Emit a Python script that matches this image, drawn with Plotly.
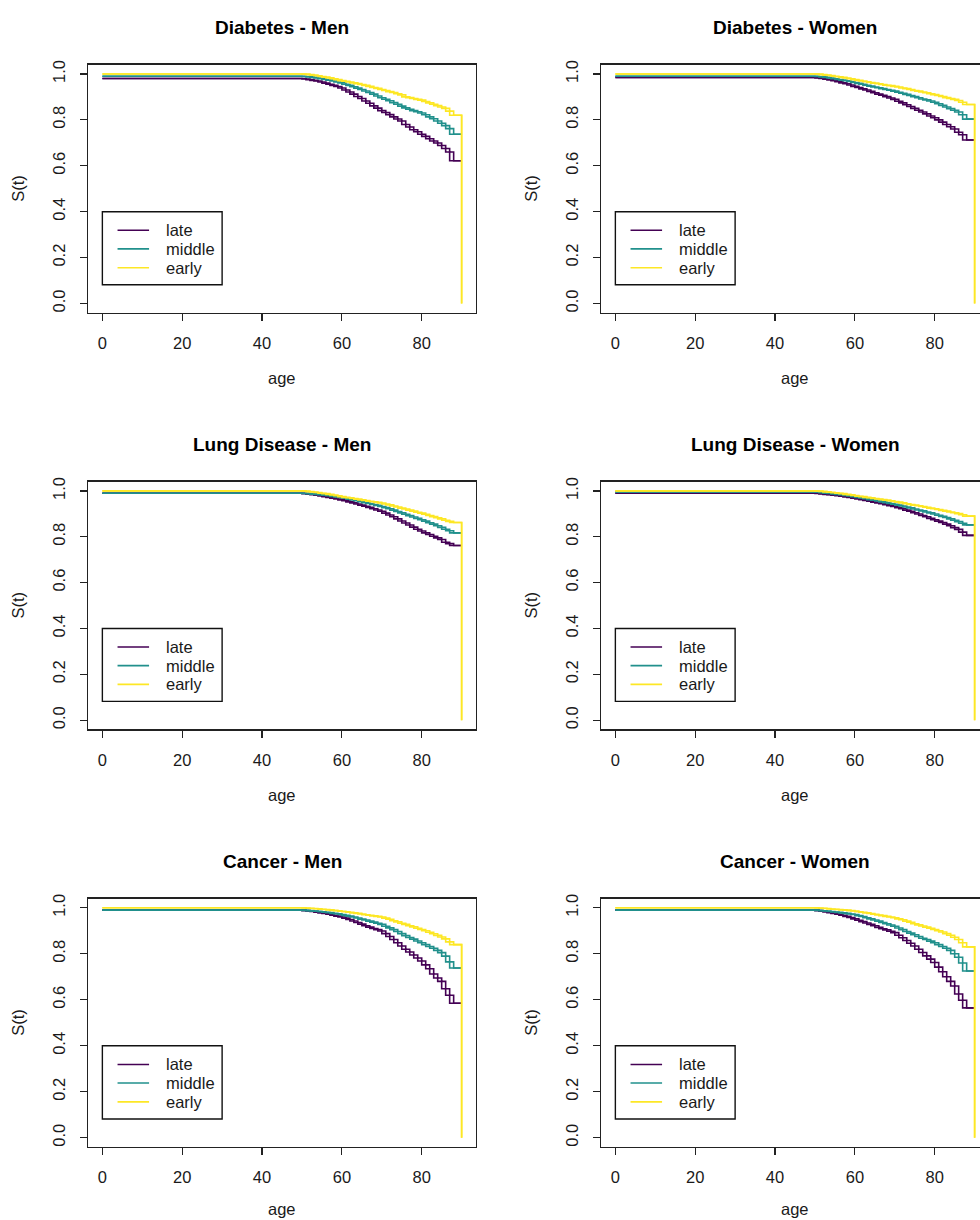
import plotly.graph_objects as go

# ---------------- data ----------------
AGES = [0, 50, 51, 52, 53, 54, 55, 56, 57, 58, 59, 60, 61, 62, 63, 64, 65, 66, 67, 68, 69,
        70, 71, 72, 73, 74, 75, 76, 77, 78, 79, 80, 81, 82, 83, 84, 85, 86, 87, 88, 89, 90]
EARLY_END_AGE = 90
EARLY_END_VALUE = 0.0

GROUPS = ["late", "middle", "early"]
X_TICKS = [0, 20, 40, 60, 80]
Y_TICKS = [0.0, 0.2, 0.4, 0.6, 0.8, 1.0]
Y_TICK_LABELS = ["0.0", "0.2", "0.4", "0.6", "0.8", "1.0"]
TITLES = ["Diabetes - Men", "Diabetes - Women", "Lung Disease - Men",
          "Lung Disease - Women", "Cancer - Men", "Cancer - Women"]

DIAB_MEN_LATE = [0.980, 0.980, 0.978, 0.975, 0.972, 0.969, 0.965, 0.960, 0.955, 0.950, 0.945, 0.939,
                 0.930, 0.921, 0.912, 0.902, 0.893, 0.882, 0.872, 0.861, 0.851, 0.840, 0.832, 0.823,
                 0.813, 0.804, 0.795, 0.780, 0.769, 0.757, 0.748, 0.737, 0.728, 0.718, 0.708, 0.699,
                 0.688, 0.675, 0.660, 0.622, 0.622, 0.622]
DIAB_MEN_MIDDLE = [0.990, 0.990, 0.989, 0.987, 0.985, 0.982, 0.979, 0.976, 0.973, 0.969, 0.965, 0.961,
                   0.955, 0.950, 0.944, 0.938, 0.932, 0.926, 0.919, 0.912, 0.904, 0.896, 0.890, 0.883,
                   0.875, 0.868, 0.860, 0.852, 0.846, 0.840, 0.835, 0.830, 0.822, 0.813, 0.805, 0.795,
                   0.785, 0.775, 0.762, 0.737, 0.737, 0.737]
DIAB_MEN_EARLY = [1.000, 1.000, 0.999, 0.997, 0.995, 0.992, 0.989, 0.986, 0.983, 0.979, 0.975, 0.971,
                  0.968, 0.965, 0.961, 0.958, 0.954, 0.950, 0.946, 0.941, 0.937, 0.932, 0.928, 0.923,
                  0.919, 0.914, 0.909, 0.900, 0.897, 0.893, 0.889, 0.886, 0.880, 0.874, 0.868, 0.862,
                  0.856, 0.850, 0.838, 0.820, 0.820, 0.820]

DIAB_WOMEN_LATE = [0.985, 0.985, 0.983, 0.980, 0.977, 0.974, 0.970, 0.966, 0.961, 0.957, 0.952, 0.946,
                   0.941, 0.935, 0.930, 0.924, 0.918, 0.912, 0.907, 0.901, 0.895, 0.889, 0.881, 0.874,
                   0.866, 0.858, 0.850, 0.842, 0.834, 0.826, 0.817, 0.809, 0.800, 0.790, 0.780, 0.770,
                   0.760, 0.746, 0.735, 0.712, 0.712, 0.712]
DIAB_WOMEN_MIDDLE = [0.990, 0.990, 0.989, 0.987, 0.985, 0.982, 0.979, 0.976, 0.973, 0.970, 0.967, 0.963,
                     0.959, 0.955, 0.951, 0.947, 0.943, 0.940, 0.936, 0.932, 0.929, 0.925, 0.920, 0.916,
                     0.911, 0.906, 0.901, 0.896, 0.891, 0.887, 0.882, 0.877, 0.870, 0.863, 0.856, 0.849,
                     0.842, 0.834, 0.822, 0.803, 0.803, 0.803]
DIAB_WOMEN_EARLY = [1.000, 1.000, 0.999, 0.997, 0.995, 0.993, 0.990, 0.988, 0.985, 0.982, 0.979, 0.975,
                    0.972, 0.969, 0.966, 0.963, 0.960, 0.957, 0.954, 0.951, 0.949, 0.946, 0.943, 0.939,
                    0.936, 0.932, 0.928, 0.925, 0.921, 0.918, 0.914, 0.910, 0.906, 0.902, 0.897, 0.893,
                    0.889, 0.884, 0.877, 0.867, 0.867, 0.867]

LUNG_MEN_LATE = [0.990, 0.990, 0.988, 0.986, 0.984, 0.981, 0.978, 0.975, 0.972, 0.968, 0.965, 0.961,
                 0.957, 0.952, 0.948, 0.943, 0.938, 0.933, 0.928, 0.922, 0.917, 0.911, 0.903, 0.895,
                 0.887, 0.878, 0.869, 0.860, 0.851, 0.842, 0.833, 0.825, 0.817, 0.810, 0.802, 0.795,
                 0.788, 0.776, 0.770, 0.762, 0.762, 0.762]
LUNG_MEN_MIDDLE = [0.990, 0.990, 0.989, 0.988, 0.986, 0.985, 0.983, 0.981, 0.979, 0.976, 0.974, 0.971,
                   0.968, 0.964, 0.961, 0.957, 0.953, 0.949, 0.945, 0.941, 0.937, 0.932, 0.927, 0.922,
                   0.916, 0.910, 0.904, 0.898, 0.892, 0.886, 0.880, 0.874, 0.868, 0.861, 0.855, 0.848,
                   0.841, 0.833, 0.826, 0.817, 0.817, 0.817]
LUNG_MEN_EARLY = [1.000, 1.000, 0.999, 0.997, 0.995, 0.993, 0.990, 0.988, 0.985, 0.982, 0.979, 0.975,
                  0.972, 0.970, 0.967, 0.964, 0.961, 0.958, 0.955, 0.953, 0.950, 0.947, 0.943, 0.939,
                  0.934, 0.930, 0.925, 0.921, 0.916, 0.912, 0.907, 0.903, 0.898, 0.893, 0.888, 0.883,
                  0.878, 0.872, 0.867, 0.862, 0.862, 0.862]

LUNG_WOMEN_LATE = [0.990, 0.990, 0.989, 0.987, 0.985, 0.983, 0.981, 0.979, 0.977, 0.974, 0.971, 0.968,
                   0.965, 0.962, 0.958, 0.955, 0.951, 0.948, 0.944, 0.940, 0.936, 0.932, 0.927, 0.922,
                   0.916, 0.911, 0.905, 0.899, 0.893, 0.887, 0.880, 0.874, 0.868, 0.862, 0.855, 0.848,
                   0.840, 0.832, 0.820, 0.806, 0.806, 0.806]
LUNG_WOMEN_MIDDLE = [0.995, 0.995, 0.994, 0.992, 0.990, 0.989, 0.987, 0.985, 0.983, 0.980, 0.978, 0.975,
                     0.972, 0.969, 0.966, 0.962, 0.959, 0.956, 0.952, 0.949, 0.945, 0.942, 0.938, 0.934,
                     0.930, 0.926, 0.921, 0.917, 0.913, 0.908, 0.904, 0.899, 0.894, 0.889, 0.884, 0.878,
                     0.872, 0.866, 0.859, 0.852, 0.852, 0.852]
LUNG_WOMEN_EARLY = [1.000, 1.000, 0.999, 0.998, 0.996, 0.994, 0.992, 0.990, 0.988, 0.985, 0.983, 0.980,
                    0.977, 0.975, 0.972, 0.970, 0.967, 0.965, 0.962, 0.960, 0.957, 0.954, 0.951, 0.948,
                    0.944, 0.941, 0.938, 0.935, 0.932, 0.929, 0.925, 0.922, 0.919, 0.915, 0.912, 0.908,
                    0.905, 0.901, 0.896, 0.890, 0.890, 0.890]

CANCER_MEN_LATE = [0.990, 0.990, 0.988, 0.986, 0.984, 0.981, 0.978, 0.975, 0.972, 0.968, 0.964, 0.960,
                   0.955, 0.949, 0.943, 0.936, 0.929, 0.922, 0.916, 0.910, 0.905, 0.899, 0.888, 0.875,
                   0.862, 0.848, 0.834, 0.820, 0.808, 0.795, 0.782, 0.769, 0.752, 0.735, 0.712, 0.695,
                   0.680, 0.648, 0.620, 0.585, 0.585, 0.585]
CANCER_MEN_MIDDLE = [0.990, 0.990, 0.989, 0.988, 0.986, 0.985, 0.983, 0.981, 0.979, 0.976, 0.974, 0.971,
                     0.967, 0.964, 0.960, 0.956, 0.951, 0.947, 0.942, 0.938, 0.933, 0.928, 0.920, 0.913,
                     0.905, 0.897, 0.888, 0.879, 0.871, 0.864, 0.856, 0.848, 0.840, 0.832, 0.824, 0.815,
                     0.805, 0.790, 0.765, 0.738, 0.738, 0.738]
CANCER_MEN_EARLY = [1.000, 1.000, 0.999, 0.998, 0.997, 0.996, 0.994, 0.993, 0.991, 0.989, 0.987, 0.985,
                    0.983, 0.981, 0.978, 0.976, 0.973, 0.970, 0.968, 0.965, 0.963, 0.960, 0.955, 0.950,
                    0.944, 0.939, 0.933, 0.928, 0.922, 0.917, 0.911, 0.906, 0.900, 0.894, 0.887, 0.880,
                    0.873, 0.865, 0.852, 0.840, 0.840, 0.840]

CANCER_WOMEN_LATE = [0.990, 0.990, 0.988, 0.985, 0.982, 0.979, 0.975, 0.972, 0.968, 0.963, 0.958, 0.952,
                     0.946, 0.940, 0.934, 0.928, 0.922, 0.915, 0.909, 0.904, 0.898, 0.892, 0.881, 0.870,
                     0.858, 0.846, 0.834, 0.820, 0.806, 0.791, 0.777, 0.762, 0.742, 0.722, 0.700, 0.680,
                     0.660, 0.625, 0.598, 0.565, 0.565, 0.565]
CANCER_WOMEN_MIDDLE = [0.990, 0.990, 0.989, 0.987, 0.986, 0.984, 0.982, 0.980, 0.978, 0.976, 0.973, 0.971,
                       0.966, 0.962, 0.957, 0.952, 0.947, 0.942, 0.936, 0.931, 0.925, 0.920, 0.912, 0.905,
                       0.897, 0.890, 0.883, 0.875, 0.868, 0.862, 0.855, 0.848, 0.840, 0.832, 0.824, 0.815,
                       0.800, 0.785, 0.760, 0.725, 0.725, 0.725]
CANCER_WOMEN_EARLY = [1.000, 1.000, 0.999, 0.998, 0.997, 0.995, 0.994, 0.993, 0.991, 0.990, 0.988, 0.986,
                      0.983, 0.981, 0.978, 0.975, 0.972, 0.969, 0.966, 0.963, 0.960, 0.957, 0.952, 0.948,
                      0.942, 0.937, 0.931, 0.926, 0.921, 0.916, 0.911, 0.906, 0.900, 0.895, 0.888, 0.881,
                      0.872, 0.862, 0.848, 0.830, 0.830, 0.830]

PANEL_SERIES = [
    (DIAB_MEN_LATE, DIAB_MEN_MIDDLE, DIAB_MEN_EARLY),
    (DIAB_WOMEN_LATE, DIAB_WOMEN_MIDDLE, DIAB_WOMEN_EARLY),
    (LUNG_MEN_LATE, LUNG_MEN_MIDDLE, LUNG_MEN_EARLY),
    (LUNG_WOMEN_LATE, LUNG_WOMEN_MIDDLE, LUNG_WOMEN_EARLY),
    (CANCER_MEN_LATE, CANCER_MEN_MIDDLE, CANCER_MEN_EARLY),
    (CANCER_WOMEN_LATE, CANCER_WOMEN_MIDDLE, CANCER_WOMEN_EARLY),
]

# ---------------- styling / layout ----------------
W, H = 980, 1220
COLORS = ["#440154", "#21908C", "#FDE725"]
FONT = "Liberation Sans, Arial, Helvetica, sans-serif"
FS = 16.5
TXT = "#1a1a1a"

# pixel geometry of the panels
COL_X = [(88, 476), (601, 980)]          # frame left/right (right column is cut by the page)
ROW_Y = [(60, 309), (478.7, 727.3), (897.3, 1146.7)]  # frame top/bottom
AGE_LABEL_GAP = [66, 66, 62]
PX_PER_UNIT = (476 - 88) / 97.2
X_RANGES = [[-3.6, 93.6], [-3.6, -3.6 + (980 - 601) / PX_PER_UNIT]]
Y_RANGE = [-0.04, 1.04]
COL_CENTER = [282, 795]


def px(x):
    return x / W


def py(y):
    return 1 - y / H


fig = go.Figure()
layout = dict(width=W, height=H, autosize=False, margin=dict(l=0, r=0, t=0, b=0),
              paper_bgcolor="white", plot_bgcolor="white", showlegend=False,
              hovermode=False, dragmode=False,
              font=dict(family=FONT, size=FS, color=TXT))
annotations = []
shapes = []

for i, (title, series) in enumerate(zip(TITLES, PANEL_SERIES)):
    row, col = divmod(i, 2)
    n = i + 1
    xa = "x" if n == 1 else f"x{n}"
    ya = "y" if n == 1 else f"y{n}"
    xkey = "xaxis" if n == 1 else f"xaxis{n}"
    ykey = "yaxis" if n == 1 else f"yaxis{n}"
    left, right = COL_X[col]
    top, bottom = ROW_Y[row]

    layout[xkey] = dict(domain=[px(left), px(right)], range=X_RANGES[col], anchor=ya,
                        tickvals=X_TICKS, ticks="outside", ticklen=7, tickwidth=1.2,
                        tickcolor="#222", showline=True, mirror=True, linecolor="#222",
                        linewidth=1.4, showgrid=False, zeroline=False, fixedrange=True,
                        tickfont=dict(size=FS, color=TXT, family=FONT),
                        ticklabelstandoff=8)
    layout[ykey] = dict(domain=[py(bottom), py(top)], range=Y_RANGE, anchor=xa,
                        tickvals=Y_TICKS, ticktext=Y_TICK_LABELS, tickangle=-90,
                        ticks="outside", ticklen=7, tickwidth=1.2, tickcolor="#222",
                        showline=True, mirror=(col == 0), linecolor="#222", linewidth=1.4,
                        showgrid=False, zeroline=False, fixedrange=True,
                        tickfont=dict(size=FS, color=TXT, family=FONT),
                        ticklabelstandoff=8)

    for g, (name, vals, color) in enumerate(zip(GROUPS, series, COLORS)):
        xs = list(AGES)
        ys = list(vals)
        if name == "early":
            xs = xs + [EARLY_END_AGE]
            ys = ys + [EARLY_END_VALUE]
        for shape in ("hv", "vh"):
            fig.add_trace(go.Scatter(x=xs, y=ys, mode="lines", name=name,
                                     line=dict(color=color, width=1.6, shape=shape),
                                     xaxis=xa, yaxis=ya, hoverinfo="skip"))

    # title and axis labels
    annotations.append(dict(text=f"<b>{title}</b>", x=px(COL_CENTER[col]), y=py(top - 37),
                            xref="paper", yref="paper", showarrow=False,
                            xanchor="center", yanchor="middle",
                            font=dict(size=19, color="#000", family=FONT)))
    annotations.append(dict(text="age", x=px(COL_CENTER[col]), y=py(bottom + AGE_LABEL_GAP[row]),
                            xref="paper", yref="paper", showarrow=False,
                            xanchor="center", yanchor="middle",
                            font=dict(size=FS, color=TXT, family=FONT)))
    annotations.append(dict(text="S(t)", x=px(18 + 513 * col), y=py((top + bottom) / 2),
                            xref="paper", yref="paper", showarrow=False, textangle=-90,
                            xanchor="center", yanchor="middle",
                            font=dict(size=FS, color=TXT, family=FONT)))

    # legend box (bottom-left, in data coordinates)
    shapes.append(dict(type="rect", xref=xa, yref=ya, x0=0, x1=30, y0=0.082, y1=0.40,
                       line=dict(color="#111", width=1.4), fillcolor="rgba(0,0,0,0)"))
    for name, color, ly in zip(GROUPS, COLORS, [0.319, 0.238, 0.156]):
        shapes.append(dict(type="line", xref=xa, yref=ya, x0=3.8, x1=11.7, y0=ly, y1=ly,
                           line=dict(color=color, width=1.6)))
        annotations.append(dict(text=name, x=15.5, y=ly, xref=xa, yref=ya, showarrow=False,
                                xanchor="left", yanchor="middle",
                                font=dict(size=FS, color=TXT, family=FONT)))

layout["annotations"] = annotations
layout["shapes"] = shapes
fig.update_layout(**layout)
fig.write_html("out.html", config={"displayModeBar": False, "staticPlot": True},
               post_script="document.body.style.margin='0';document.body.style.overflow='hidden';")
